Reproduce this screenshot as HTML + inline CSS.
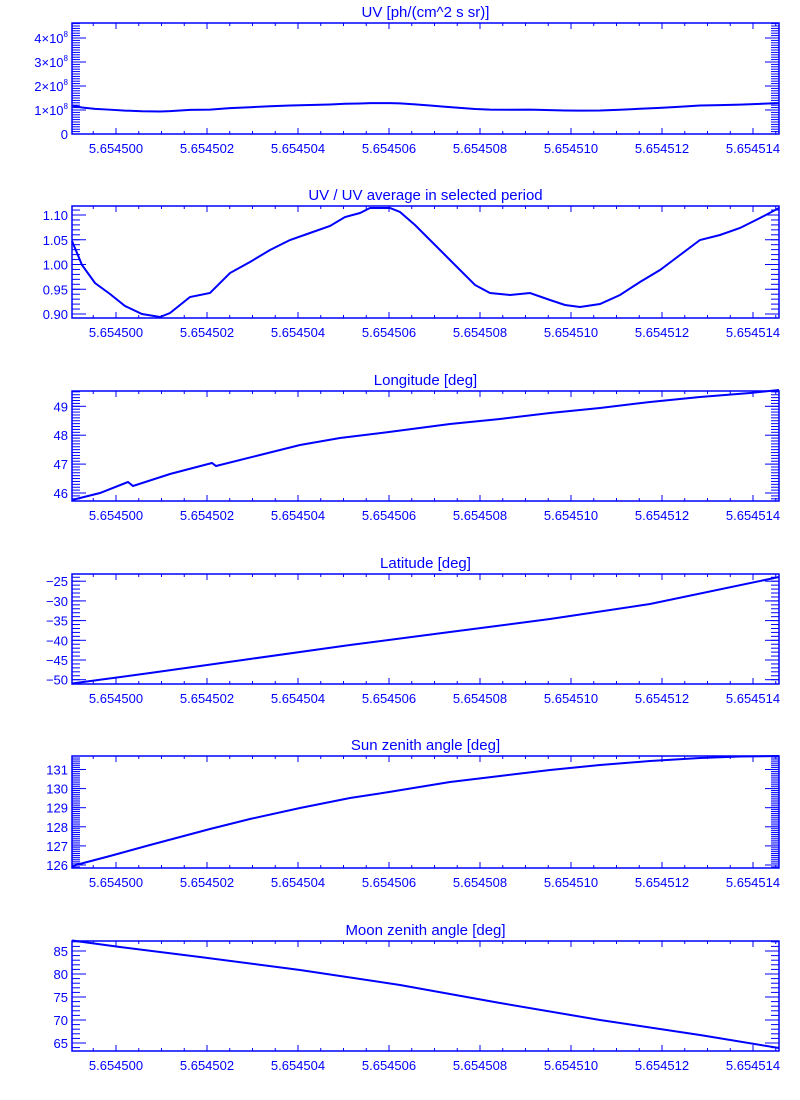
<!DOCTYPE html>
<html><head><meta charset="utf-8"><style>
html,body{margin:0;padding:0;background:#fff;}
svg{display:block;}
text{font-family:"Liberation Sans",sans-serif;fill:#0000ff;}
</style></head><body>
<svg id="s" width="800" height="1100" xmlns="http://www.w3.org/2000/svg"></svg>
<script>
var S=document.getElementById('s'),B='#0000ff',L=72,R=779;
var h='';
function ln(x1,y1,x2,y2,w){h+='<line x1="'+x1+'" y1="'+y1+'" x2="'+x2+'" y2="'+y2+'" stroke="'+B+'" stroke-width="'+(w||1)+'"/>';}
function tx(x,y,t,a,fs){h+='<text x="'+x+'" y="'+y+'" font-size="'+(fs||13)+'" text-anchor="'+(a||'middle')+'">'+t+'</text>';}
function xpx(u){return 116+(u-0)*45.5;} // u = units of 1e-6 after 5.654500
var panels=[
 {t:'UV [ph/(cm^2 s sr)]',top:23,bot:134,v0:0,y0:134,pp:24/1e8,maj:[0,1e8,2e8,3e8,4e8],lab:['0','1×10<tspan font-size="8" dy="-6">8</tspan>','2×10<tspan font-size="8" dy="-6">8</tspan>','3×10<tspan font-size="8" dy="-6">8</tspan>','4×10<tspan font-size="8" dy="-6">8</tspan>'],minStep:0.1e8,vmin:0,vmax:4.6e8},
 {t:'UV / UV average in selected period',top:206,bot:318,v0:0.90,y0:314,pp:24.75/0.05,maj:[0.90,0.95,1.00,1.05,1.10],lab:['0.90','0.95','1.00','1.05','1.10'],minStep:0.01,vmin:0.89,vmax:1.12},
 {t:'Longitude [deg]',top:391,bot:501,v0:46,y0:493,pp:28.9,maj:[46,47,48,49],lab:['46','47','48','49'],minStep:0.1,vmin:45.7,vmax:49.6},
 {t:'Latitude [deg]',top:574,bot:684,v0:-50,y0:679.7,pp:19.7/5,maj:[-50,-45,-40,-35,-30,-25],lab:['−50','−45','−40','−35','−30','−25'],minStep:1,vmin:-51.1,vmax:-23},
 {t:'Sun zenith angle [deg]',top:756,bot:868,v0:126,y0:865,pp:19.1,maj:[126,127,128,129,130,131],lab:['126','127','128','129','130','131'],minStep:0.1,vmin:125.8,vmax:131.7},
 {t:'Moon zenith angle [deg]',top:941,bot:1051,v0:65,y0:1043,pp:23/5,maj:[65,70,75,80,85],lab:['65','70','75','80','85'],minStep:1,vmin:63.2,vmax:87.3}
];
var ratio=[[72,241],[82,265],[95,283],[110,294],[125,306],[142,314],[160,317],[170,313],[190,297],[210,293],[230,273],[250,262],[270,250],[290,240],[310,233],[330,226],[345,217],[360,213],[370,208],[390,208],[400,212],[415,225],[430,240],[445,255],[460,270],[475,285],[490,293],[510,295],[530,293],[550,300],[565,305],[580,307],[600,304],[620,295],[640,282],[660,270],[680,255],[700,240],[720,235],[740,228],[760,218],[779,208]];
var data=[
 ratio.map(function(p){var r=1+(259-p[1])/495;return [p[0],107-(r-1)*38];}),
 ratio,
 [[72,500],[100,493],[128,482],[133,486],[170,474],[212,463],[216,466],[260,455],[300,445],[340,438],[389,432],[450,424],[500,419],[550,413],[600,408],[650,402],[700,397],[750,393],[779,390]],
 [[72,683.5],[150,673],[250,659],[350,645],[450,632],[550,619],[650,604],[779,577]],
 [[72,866],[110,856],[150,845],[210,829],[250,819],[300,808],[350,798],[389,792],[450,782],[500,776],[550,770],[600,765],[650,761],[700,758],[740,756.5],[779,756]],
 [[72,940.5],[120,947],[200,957],[300,970],[400,985],[500,1003],[600,1020],[700,1035],[779,1048]]
];
panels.forEach(function(p,i){
 // frame
 h+='<rect x="'+L+'" y="'+p.top+'" width="'+(R-L)+'" height="'+(p.bot-p.top)+'" fill="none" stroke="'+B+'" stroke-width="1.5"/>';
 tx(425.5,p.top-6,p.t,'middle',15);
 // x ticks
 for(var k=-2;k<=29;k++){var u=k*0.5,x=xpx(u);if(x<L||x>R)continue;var maj=(k%4==0);var len=maj?6:3;
  ln(x,p.bot,x,p.bot-len);ln(x,p.top,x,p.top+len);
  if(maj)tx(x,p.bot+19,'5.6545'+(u<10?'0':'')+u.toFixed(0));}
 // y ticks
 var n=Math.round((p.vmax-p.vmin)/p.minStep)+2;
 var st=Math.ceil(p.vmin/p.minStep);
 for(var j=st;j*p.minStep<=p.vmax;j++){var v=j*p.minStep,y=p.y0-(v-p.v0)*p.pp;if(y<p.top+0.5||y>p.bot-0.5)continue;
  ln(L,y,L+8,y);ln(R,y,R-8,y);}
 p.maj.forEach(function(v,m){var y=p.y0-(v-p.v0)*p.pp;ln(L,y,L+14,y);ln(R,y,R-14,y);tx(L-4,y+5,p.lab[m],'end',13);});
 h+='<polyline fill="none" stroke="'+B+'" stroke-width="2" points="'+data[i].map(function(q){return q[0]+','+q[1];}).join(' ')+'"/>';
});
S.innerHTML=h;
</script>
</body></html>
